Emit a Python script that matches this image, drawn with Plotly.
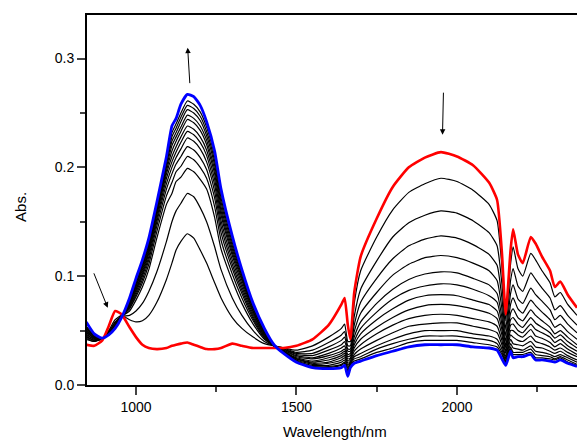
import plotly.graph_objects as go

# Wavelength grid (nm)
wavelength = [845, 870, 895, 915, 935, 955, 980, 1000, 1020, 1040, 1065, 1095, 1112, 1125, 1140,
              1160, 1180, 1200, 1220, 1245, 1265, 1300, 1330, 1365, 1400, 1430, 1460, 1500, 1550,
              1600, 1640, 1650, 1660, 1668, 1680, 1700, 1750, 1800, 1850, 1900, 1950, 2000, 2050,
              2100, 2125, 2140, 2152, 2167, 2175, 2190, 2205, 2230, 2245, 2265, 2290, 2305, 2322,
              2345, 2374]

# Initial spectrum (red)
abs_initial = [0.037, 0.036, 0.041, 0.054, 0.068, 0.065, 0.053, 0.044, 0.037, 0.034, 0.033, 0.034, 0.036, 0.037, 0.038,
               0.039, 0.037, 0.035, 0.033, 0.033, 0.034, 0.038, 0.036, 0.034, 0.034, 0.034, 0.034, 0.036, 0.042,
               0.055, 0.074, 0.080, 0.055, 0.042, 0.085, 0.118, 0.153, 0.182, 0.200, 0.209, 0.214, 0.210, 0.202,
               0.186, 0.170, 0.122, 0.065, 0.124, 0.143, 0.120, 0.112, 0.136, 0.130, 0.118, 0.105, 0.090, 0.095,
               0.083, 0.071]

# Final spectrum (blue)
abs_final = [0.058, 0.047, 0.043, 0.046, 0.052, 0.062, 0.080, 0.098, 0.115, 0.135, 0.168, 0.210, 0.238, 0.245, 0.258,
             0.267, 0.265, 0.257, 0.242, 0.215, 0.180, 0.137, 0.106, 0.075, 0.052, 0.037, 0.029, 0.021, 0.016,
             0.015, 0.016, 0.018, 0.008, 0.016, 0.020, 0.022, 0.027, 0.031, 0.035, 0.037, 0.037, 0.037, 0.035,
             0.034, 0.032, 0.024, 0.018, 0.031, 0.025, 0.026, 0.026, 0.028, 0.023, 0.023, 0.022, 0.021, 0.023,
             0.020, 0.017]

# Intermediate spectra (black)
abs_step01 = [0.042, 0.040, 0.043, 0.050, 0.060, 0.064, 0.060, 0.058, 0.059, 0.064, 0.076, 0.097, 0.112, 0.124, 0.132,
              0.139, 0.135, 0.124, 0.112, 0.094, 0.080, 0.062, 0.052, 0.044, 0.038, 0.036, 0.034, 0.032, 0.036,
              0.044, 0.052, 0.056, 0.040, 0.040, 0.075, 0.105, 0.136, 0.161, 0.177, 0.185, 0.190, 0.187, 0.179,
              0.166, 0.151, 0.109, 0.059, 0.111, 0.127, 0.107, 0.100, 0.121, 0.115, 0.105, 0.094, 0.081, 0.085,
              0.074, 0.064]
abs_step02 = [0.043, 0.040, 0.043, 0.049, 0.058, 0.063, 0.064, 0.068, 0.075, 0.086, 0.104, 0.132, 0.150, 0.160, 0.167,
              0.176, 0.173, 0.163, 0.150, 0.127, 0.106, 0.080, 0.064, 0.050, 0.040, 0.036, 0.034, 0.030, 0.032,
              0.039, 0.046, 0.049, 0.036, 0.036, 0.063, 0.088, 0.114, 0.136, 0.149, 0.156, 0.160, 0.158, 0.151,
              0.140, 0.128, 0.093, 0.051, 0.096, 0.107, 0.091, 0.086, 0.103, 0.097, 0.089, 0.080, 0.069, 0.073,
              0.064, 0.055]
abs_step03 = [0.044, 0.041, 0.043, 0.049, 0.057, 0.063, 0.068, 0.078, 0.090, 0.106, 0.135, 0.166, 0.176, 0.187, 0.191,
              0.199, 0.196, 0.189, 0.180, 0.154, 0.125, 0.096, 0.075, 0.056, 0.042, 0.036, 0.033, 0.029, 0.029,
              0.035, 0.041, 0.044, 0.033, 0.033, 0.055, 0.076, 0.098, 0.116, 0.128, 0.134, 0.137, 0.135, 0.129,
              0.120, 0.110, 0.080, 0.045, 0.084, 0.092, 0.079, 0.075, 0.089, 0.083, 0.077, 0.069, 0.060, 0.064,
              0.056, 0.048]
abs_step04 = [0.045, 0.041, 0.042, 0.048, 0.056, 0.063, 0.070, 0.081, 0.094, 0.111, 0.141, 0.174, 0.186, 0.196, 0.201,
              0.210, 0.207, 0.200, 0.190, 0.164, 0.133, 0.102, 0.080, 0.059, 0.043, 0.036, 0.033, 0.028, 0.027,
              0.032, 0.037, 0.040, 0.031, 0.031, 0.049, 0.066, 0.085, 0.101, 0.111, 0.117, 0.119, 0.117, 0.112,
              0.105, 0.096, 0.070, 0.040, 0.074, 0.080, 0.070, 0.066, 0.078, 0.073, 0.067, 0.060, 0.053, 0.056,
              0.049, 0.042]
abs_step05 = [0.046, 0.042, 0.042, 0.048, 0.055, 0.063, 0.071, 0.083, 0.097, 0.115, 0.146, 0.180, 0.194, 0.203, 0.210,
              0.219, 0.216, 0.209, 0.198, 0.172, 0.140, 0.107, 0.084, 0.061, 0.044, 0.036, 0.032, 0.027, 0.025,
              0.029, 0.034, 0.036, 0.028, 0.029, 0.044, 0.058, 0.075, 0.088, 0.097, 0.102, 0.104, 0.103, 0.098,
              0.092, 0.084, 0.062, 0.036, 0.066, 0.070, 0.062, 0.059, 0.069, 0.064, 0.059, 0.053, 0.047, 0.050,
              0.044, 0.037]
abs_step06 = [0.047, 0.042, 0.042, 0.048, 0.055, 0.062, 0.072, 0.085, 0.100, 0.118, 0.150, 0.185, 0.200, 0.209, 0.217,
              0.227, 0.224, 0.217, 0.205, 0.178, 0.146, 0.111, 0.087, 0.063, 0.045, 0.036, 0.032, 0.026, 0.024,
              0.027, 0.031, 0.033, 0.026, 0.027, 0.040, 0.052, 0.067, 0.079, 0.087, 0.091, 0.093, 0.092, 0.088,
              0.082, 0.076, 0.056, 0.034, 0.060, 0.062, 0.056, 0.053, 0.062, 0.057, 0.053, 0.048, 0.043, 0.046,
              0.040, 0.034]
abs_step07 = [0.048, 0.043, 0.042, 0.047, 0.054, 0.062, 0.073, 0.087, 0.102, 0.121, 0.153, 0.190, 0.205, 0.214, 0.223,
              0.233, 0.230, 0.223, 0.211, 0.184, 0.151, 0.115, 0.090, 0.065, 0.046, 0.036, 0.031, 0.025, 0.022,
              0.025, 0.029, 0.031, 0.024, 0.025, 0.037, 0.047, 0.060, 0.070, 0.078, 0.082, 0.083, 0.082, 0.078,
              0.074, 0.068, 0.051, 0.031, 0.055, 0.056, 0.050, 0.048, 0.056, 0.051, 0.048, 0.044, 0.039, 0.042,
              0.036, 0.031]
abs_step08 = [0.049, 0.043, 0.042, 0.047, 0.054, 0.062, 0.074, 0.088, 0.104, 0.123, 0.156, 0.194, 0.210, 0.219, 0.228,
              0.238, 0.235, 0.228, 0.216, 0.189, 0.156, 0.119, 0.093, 0.067, 0.047, 0.036, 0.031, 0.024, 0.021,
              0.023, 0.027, 0.029, 0.022, 0.024, 0.034, 0.042, 0.053, 0.062, 0.069, 0.073, 0.074, 0.073, 0.070,
              0.066, 0.061, 0.046, 0.029, 0.050, 0.050, 0.046, 0.044, 0.051, 0.045, 0.043, 0.039, 0.035, 0.038,
              0.033, 0.028]
abs_step09 = [0.050, 0.044, 0.042, 0.047, 0.054, 0.062, 0.075, 0.090, 0.106, 0.125, 0.158, 0.197, 0.215, 0.224, 0.233,
              0.244, 0.241, 0.234, 0.221, 0.194, 0.160, 0.122, 0.096, 0.068, 0.048, 0.036, 0.031, 0.024, 0.020,
              0.021, 0.025, 0.027, 0.020, 0.022, 0.031, 0.037, 0.047, 0.055, 0.061, 0.064, 0.065, 0.064, 0.061,
              0.058, 0.054, 0.041, 0.026, 0.046, 0.044, 0.041, 0.040, 0.045, 0.040, 0.038, 0.035, 0.032, 0.034,
              0.030, 0.026]
abs_step10 = [0.051, 0.044, 0.042, 0.047, 0.053, 0.062, 0.076, 0.091, 0.108, 0.127, 0.160, 0.200, 0.220, 0.228, 0.237,
              0.248, 0.245, 0.238, 0.225, 0.198, 0.164, 0.125, 0.098, 0.070, 0.049, 0.036, 0.030, 0.023, 0.019,
              0.020, 0.023, 0.025, 0.018, 0.021, 0.028, 0.033, 0.041, 0.048, 0.054, 0.056, 0.057, 0.057, 0.054,
              0.051, 0.048, 0.037, 0.024, 0.042, 0.038, 0.037, 0.036, 0.040, 0.035, 0.034, 0.031, 0.029, 0.031,
              0.027, 0.023]
abs_step11 = [0.052, 0.045, 0.043, 0.047, 0.053, 0.062, 0.076, 0.093, 0.110, 0.129, 0.162, 0.203, 0.224, 0.232, 0.242,
              0.253, 0.250, 0.243, 0.229, 0.202, 0.168, 0.128, 0.100, 0.071, 0.050, 0.036, 0.030, 0.022, 0.018,
              0.018, 0.021, 0.023, 0.016, 0.020, 0.026, 0.029, 0.036, 0.042, 0.047, 0.050, 0.050, 0.050, 0.047,
              0.045, 0.042, 0.033, 0.022, 0.038, 0.034, 0.033, 0.032, 0.036, 0.031, 0.030, 0.028, 0.026, 0.028,
              0.025, 0.021]
abs_step12 = [0.053, 0.045, 0.043, 0.046, 0.053, 0.062, 0.077, 0.094, 0.111, 0.131, 0.164, 0.205, 0.228, 0.236, 0.246,
              0.257, 0.254, 0.247, 0.233, 0.206, 0.172, 0.131, 0.102, 0.073, 0.051, 0.036, 0.030, 0.022, 0.017,
              0.017, 0.019, 0.021, 0.014, 0.019, 0.024, 0.026, 0.033, 0.038, 0.042, 0.045, 0.045, 0.045, 0.043,
              0.041, 0.038, 0.030, 0.021, 0.035, 0.030, 0.030, 0.030, 0.033, 0.028, 0.027, 0.026, 0.024, 0.026,
              0.023, 0.019]
abs_step13 = [0.054, 0.046, 0.043, 0.046, 0.053, 0.062, 0.077, 0.096, 0.113, 0.133, 0.166, 0.207, 0.232, 0.240, 0.250,
              0.261, 0.258, 0.251, 0.237, 0.210, 0.176, 0.134, 0.104, 0.074, 0.051, 0.036, 0.029, 0.021, 0.017,
              0.016, 0.018, 0.020, 0.012, 0.018, 0.022, 0.024, 0.030, 0.034, 0.039, 0.041, 0.041, 0.041, 0.039,
              0.037, 0.035, 0.028, 0.020, 0.033, 0.028, 0.028, 0.028, 0.030, 0.025, 0.025, 0.024, 0.023, 0.025,
              0.021, 0.018]

intermediate = [abs_step01, abs_step02, abs_step03, abs_step04, abs_step05, abs_step06, abs_step07,
                abs_step08, abs_step09, abs_step10, abs_step11, abs_step12, abs_step13]

x_ticks = [1000, 1500, 2000]
y_ticks = [0.0, 0.1, 0.2, 0.3]

FONT = "Arial, Liberation Sans, sans-serif"

fig = go.Figure()
for s in intermediate:
    fig.add_trace(go.Scatter(x=wavelength, y=s, mode="lines",
                             line=dict(color="black", width=1.2, shape="spline", smoothing=0.5),
                             showlegend=False, hoverinfo="skip"))
fig.add_trace(go.Scatter(x=wavelength, y=abs_initial, mode="lines",
                         line=dict(color="#ff0000", width=2.6, shape="spline", smoothing=0.5),
                         showlegend=False))
fig.add_trace(go.Scatter(x=wavelength, y=abs_final, mode="lines",
                         line=dict(color="#0000ff", width=2.8, shape="spline", smoothing=0.5),
                         showlegend=False))

arrows = [  # (tail x, tail y, head x, head y) in data units
    (1168, 0.276, 1161, 0.310),
    (1958, 0.270, 1955, 0.230),
    (867, 0.104, 912, 0.071),
]
for tx, ty, hx, hy in arrows:
    fig.add_annotation(x=hx, y=hy, ax=tx, ay=ty, xref="x", yref="y", axref="x", ayref="y",
                       text="", showarrow=True, arrowhead=2, arrowsize=1.1, arrowwidth=1,
                       arrowcolor="black")

fig.add_annotation(text="Wavelength/nm", xref="paper", yref="paper", x=0.506, y=-0.127,
                   showarrow=False, font=dict(family=FONT, size=15, color="black"),
                   xanchor="center", yanchor="middle")
fig.add_annotation(text="Abs.", xref="paper", yref="paper", x=-0.137, y=0.481,
                   showarrow=False, textangle=-90, font=dict(family=FONT, size=15, color="black"),
                   xanchor="center", yanchor="middle")

fig.update_layout(
    width=577, height=443,
    margin=dict(l=87, r=0, t=15, b=58, autoexpand=False),
    paper_bgcolor="white", plot_bgcolor="white",
    font=dict(family=FONT, size=14, color="black"),
    showlegend=False,
)
fig.update_xaxes(range=[847.4, 2374], tickvals=x_ticks, ticks="outside", ticklen=8, tickwidth=1.5,
                 showline=True, linewidth=2, linecolor="black", mirror=True, showgrid=False,
                 zeroline=False, tickfont=dict(family=FONT, size=14),
                 minor=dict(tickvals=[1250, 1750, 2250], ticks="outside", ticklen=5, tickwidth=1.5))
fig.update_yaxes(range=[0, 0.34], tickvals=y_ticks, tickformat=".1f", ticks="outside", ticklen=8,
                 tickwidth=1.5, showline=True, linewidth=2, linecolor="black", showgrid=False,
                 zeroline=False, tickfont=dict(family=FONT, size=14),
                 minor=dict(tickvals=[0.05, 0.15, 0.25], ticks="outside", ticklen=5, tickwidth=1.5))

# Remove the page's default body margin so the 577x443 figure fills the window exactly.
fig.write_html("out.html", config={"displayModeBar": False},
               post_script="document.body.style.margin='0';document.body.style.overflow='hidden';")
